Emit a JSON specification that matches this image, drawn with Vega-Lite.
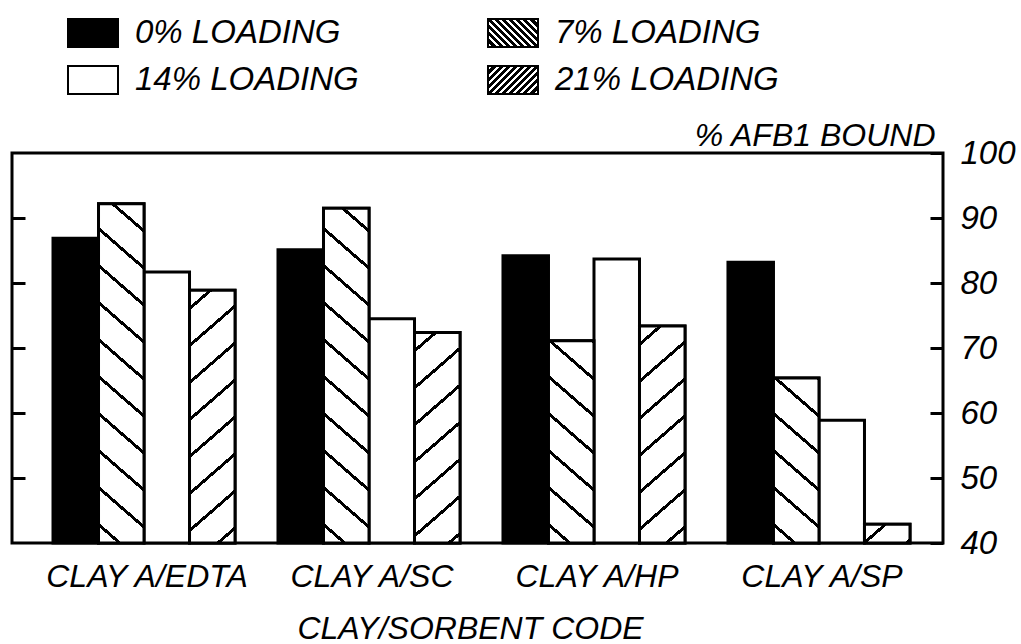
{
  "$schema": "https://vega.github.io/schema/vega-lite/v6.json",
  "width": 931,
  "height": 390,
  "autosize": {"type": "none"},
  "padding": {"left": 12, "top": 153, "right": 78, "bottom": 101},
  "background": "white",
  "config": {
    "font": "Liberation Sans",
    "view": {"stroke": "black", "strokeWidth": 3},
    "axis": {"grid": false, "labelColor": "black", "titleColor": "black", "tickColor": "black"}
  },
  "data": {
    "values": [
      {"clay": "CLAY A/EDTA", "loading": "0% LOADING", "value": 86.9},
      {"clay": "CLAY A/EDTA", "loading": "7% LOADING", "value": 92.2},
      {"clay": "CLAY A/EDTA", "loading": "14% LOADING", "value": 81.7},
      {"clay": "CLAY A/EDTA", "loading": "21% LOADING", "value": 78.9},
      {"clay": "CLAY A/SC", "loading": "0% LOADING", "value": 85.1},
      {"clay": "CLAY A/SC", "loading": "7% LOADING", "value": 91.5},
      {"clay": "CLAY A/SC", "loading": "14% LOADING", "value": 74.5},
      {"clay": "CLAY A/SC", "loading": "21% LOADING", "value": 72.4},
      {"clay": "CLAY A/HP", "loading": "0% LOADING", "value": 84.2},
      {"clay": "CLAY A/HP", "loading": "7% LOADING", "value": 71.1},
      {"clay": "CLAY A/HP", "loading": "14% LOADING", "value": 83.7},
      {"clay": "CLAY A/HP", "loading": "21% LOADING", "value": 73.4},
      {"clay": "CLAY A/SP", "loading": "0% LOADING", "value": 83.2},
      {"clay": "CLAY A/SP", "loading": "7% LOADING", "value": 65.4},
      {"clay": "CLAY A/SP", "loading": "14% LOADING", "value": 58.9},
      {"clay": "CLAY A/SP", "loading": "21% LOADING", "value": 42.9}
    ]
  },
  "encoding": {
    "x": {"field": "clay", "type": "nominal",
      "scale": {"domain": ["CLAY A/EDTA", "CLAY A/SC", "CLAY A/HP", "CLAY A/SP"], "paddingInner": 0.191, "paddingOuter": 0.1645, "align": 0.554},
      "axis": {"orient": "bottom", "domain": false, "ticks": false, "labelAngle": 0, "labelFontSize": 32, "labelFontStyle": "italic", "labelPadding": 18, "labelLimit": 1000, "labelOffset": 3,
        "title": "CLAY/SORBENT CODE", "titleFontSize": 32, "titleFontStyle": "italic", "titleFontWeight": "normal", "titleX": 458, "titleY": 95, "titleBaseline": "alphabetic", "titleAlign": "center", "titleLimit": 1000}},
    "xOffset": {"field": "loading", "type": "nominal",
      "scale": {"domain": ["0% LOADING", "7% LOADING", "14% LOADING", "21% LOADING"], "paddingInner": 0, "paddingOuter": 0}},
    "y": {"field": "value", "type": "quantitative", "axis": null,
      "scale": {"domain": [40, 100], "zero": false, "nice": false}},
    "y2": {"datum": 40}
  },
  "layer": [
    {
      "mark": {"type": "bar", "strokeWidth": 3},
      "encoding": {
        "y": {"field": "value", "type": "quantitative",
          "scale": {"domain": [40, 100], "zero": false, "nice": false},
          "axis": {"orient": "right", "values": [40, 50, 60, 70, 80, 90, 100], "domain": false, "ticks": true, "tickSize": -13, "tickWidth": 3,
            "labelFontSize": 33, "labelFontStyle": "italic", "labelPadding": 30, "labelBaseline": "middle", "labelFlush": false,
            "title": "% AFB1 BOUND", "titleAngle": 0, "titleAlign": "right", "titleBaseline": "alphabetic", "titleX": -8, "titleY": -8, "titleFontSize": 32, "titleFontStyle": "italic", "titleFontWeight": "normal", "titleLimit": 1000}},
        "fill": {"field": "loading", "type": "nominal",
          "scale": {"domain": ["0% LOADING", "7% LOADING", "14% LOADING", "21% LOADING"],
            "range": [
              "black",
              {"expr": "{gradient:'linear',x1:0,y1:1,x2:1.187,y2:0.335,stops:[{offset:0,color:'black'},{offset:0.0275,color:'black'},{offset:0.0275,color:'white'},{offset:0.0635,color:'white'},{offset:0.0635,color:'black'},{offset:0.1184,color:'black'},{offset:0.1184,color:'white'},{offset:0.1544,color:'white'},{offset:0.1544,color:'black'},{offset:0.2093,color:'black'},{offset:0.2093,color:'white'},{offset:0.2453,color:'white'},{offset:0.2453,color:'black'},{offset:0.3002,color:'black'},{offset:0.3002,color:'white'},{offset:0.3362,color:'white'},{offset:0.3362,color:'black'},{offset:0.3911,color:'black'},{offset:0.3911,color:'white'},{offset:0.4271,color:'white'},{offset:0.4271,color:'black'},{offset:0.482,color:'black'},{offset:0.482,color:'white'},{offset:0.518,color:'white'},{offset:0.518,color:'black'},{offset:0.5729,color:'black'},{offset:0.5729,color:'white'},{offset:0.6089,color:'white'},{offset:0.6089,color:'black'},{offset:0.6638,color:'black'},{offset:0.6638,color:'white'},{offset:0.6998,color:'white'},{offset:0.6998,color:'black'},{offset:0.7547,color:'black'},{offset:0.7547,color:'white'},{offset:0.7907,color:'white'},{offset:0.7907,color:'black'},{offset:0.8456,color:'black'},{offset:0.8456,color:'white'},{offset:0.8816,color:'white'},{offset:0.8816,color:'black'},{offset:0.9365,color:'black'},{offset:0.9365,color:'white'},{offset:0.9725,color:'white'},{offset:0.9725,color:'black'},{offset:1,color:'black'}]}"},
              "white",
              {"expr": "{gradient:'linear',x1:0,y1:0,x2:1.187,y2:0.665,stops:[{offset:0,color:'black'},{offset:0.0275,color:'black'},{offset:0.0275,color:'white'},{offset:0.0635,color:'white'},{offset:0.0635,color:'black'},{offset:0.1184,color:'black'},{offset:0.1184,color:'white'},{offset:0.1544,color:'white'},{offset:0.1544,color:'black'},{offset:0.2093,color:'black'},{offset:0.2093,color:'white'},{offset:0.2453,color:'white'},{offset:0.2453,color:'black'},{offset:0.3002,color:'black'},{offset:0.3002,color:'white'},{offset:0.3362,color:'white'},{offset:0.3362,color:'black'},{offset:0.3911,color:'black'},{offset:0.3911,color:'white'},{offset:0.4271,color:'white'},{offset:0.4271,color:'black'},{offset:0.482,color:'black'},{offset:0.482,color:'white'},{offset:0.518,color:'white'},{offset:0.518,color:'black'},{offset:0.5729,color:'black'},{offset:0.5729,color:'white'},{offset:0.6089,color:'white'},{offset:0.6089,color:'black'},{offset:0.6638,color:'black'},{offset:0.6638,color:'white'},{offset:0.6998,color:'white'},{offset:0.6998,color:'black'},{offset:0.7547,color:'black'},{offset:0.7547,color:'white'},{offset:0.7907,color:'white'},{offset:0.7907,color:'black'},{offset:0.8456,color:'black'},{offset:0.8456,color:'white'},{offset:0.8816,color:'white'},{offset:0.8816,color:'black'},{offset:0.9365,color:'black'},{offset:0.9365,color:'white'},{offset:0.9725,color:'white'},{offset:0.9725,color:'black'},{offset:1,color:'black'}]}"}
            ]},
          "legend": {"orient": "none", "legendX": 55, "legendY": -146, "columns": 2, "direction": "horizontal", "title": null,
            "symbolType": "M-1,-0.56H1V0.56H-1Z", "symbolSize": 2500, "symbolStrokeWidth": 2, "symbolOpacity": 1,
            "labelFontSize": 33, "labelFontStyle": "italic", "labelColor": "black", "labelOffset": 16, "labelLimit": 1000,
            "columnPadding": 125, "rowPadding": 3}},
        "stroke": {"field": "loading", "type": "nominal",
          "scale": {"domain": ["0% LOADING", "7% LOADING", "14% LOADING", "21% LOADING"], "range": ["black", "black", "black", "black"]},
          "legend": {"orient": "none", "legendX": 55, "legendY": -146, "columns": 2, "direction": "horizontal", "title": null,
            "symbolType": "M-1,-0.56H1V0.56H-1Z", "symbolSize": 2500, "symbolStrokeWidth": 2, "symbolOpacity": 1,
            "labelFontSize": 33, "labelFontStyle": "italic", "labelColor": "black", "labelOffset": 16, "labelLimit": 1000,
            "columnPadding": 125, "rowPadding": 3}}
      }
    },
    {
      "transform": [{"filter": "datum.clay === 'CLAY A/EDTA' && datum.loading === '7% LOADING'"}],
      "mark": {"type": "bar", "stroke": "black", "strokeWidth": 3,
        "fill": {"gradient": "linear", "x1": 0, "y1": 1, "x2": 0.1507, "y2": -0.2909, "stops": [
          {"offset": 0, "color": "white"},
          {"offset": 0.0372, "color": "white"}, {"offset": 0.0372, "color": "black"}, {"offset": 0.0462, "color": "black"}, {"offset": 0.0462, "color": "white"},
          {"offset": 0.1205, "color": "white"}, {"offset": 0.1205, "color": "black"}, {"offset": 0.1295, "color": "black"}, {"offset": 0.1295, "color": "white"},
          {"offset": 0.2038, "color": "white"}, {"offset": 0.2038, "color": "black"}, {"offset": 0.2128, "color": "black"}, {"offset": 0.2128, "color": "white"},
          {"offset": 0.2872, "color": "white"}, {"offset": 0.2872, "color": "black"}, {"offset": 0.2962, "color": "black"}, {"offset": 0.2962, "color": "white"},
          {"offset": 0.3705, "color": "white"}, {"offset": 0.3705, "color": "black"}, {"offset": 0.3795, "color": "black"}, {"offset": 0.3795, "color": "white"},
          {"offset": 0.4538, "color": "white"}, {"offset": 0.4538, "color": "black"}, {"offset": 0.4628, "color": "black"}, {"offset": 0.4628, "color": "white"},
          {"offset": 0.5372, "color": "white"}, {"offset": 0.5372, "color": "black"}, {"offset": 0.5462, "color": "black"}, {"offset": 0.5462, "color": "white"},
          {"offset": 0.6205, "color": "white"}, {"offset": 0.6205, "color": "black"}, {"offset": 0.6295, "color": "black"}, {"offset": 0.6295, "color": "white"},
          {"offset": 0.7038, "color": "white"}, {"offset": 0.7038, "color": "black"}, {"offset": 0.7128, "color": "black"}, {"offset": 0.7128, "color": "white"},
          {"offset": 0.7872, "color": "white"}, {"offset": 0.7872, "color": "black"}, {"offset": 0.7962, "color": "black"}, {"offset": 0.7962, "color": "white"},
          {"offset": 0.8705, "color": "white"}, {"offset": 0.8705, "color": "black"}, {"offset": 0.8795, "color": "black"}, {"offset": 0.8795, "color": "white"},
          {"offset": 0.9538, "color": "white"}, {"offset": 0.9538, "color": "black"}, {"offset": 0.9628, "color": "black"}, {"offset": 0.9628, "color": "white"},
          {"offset": 1, "color": "white"}]}},
      "encoding": {
        "y": {"field": "value", "type": "quantitative",
          "scale": {"domain": [40, 100], "zero": false, "nice": false},
          "axis": {"orient": "left", "values": [50, 60, 70, 80, 90], "domain": false, "labels": false, "ticks": true, "tickSize": -13, "tickWidth": 3, "title": null}}
      }
    },
    {
      "transform": [{"filter": "datum.clay === 'CLAY A/SC' && datum.loading === '7% LOADING'"}],
      "mark": {"type": "bar", "stroke": "black", "strokeWidth": 3,
        "fill": {"gradient": "linear", "x1": 0, "y1": 1, "x2": 0.1548, "y2": -0.308, "stops": [
          {"offset": 0, "color": "white"},
          {"offset": 0.0372, "color": "white"}, {"offset": 0.0372, "color": "black"}, {"offset": 0.0462, "color": "black"}, {"offset": 0.0462, "color": "white"},
          {"offset": 0.1205, "color": "white"}, {"offset": 0.1205, "color": "black"}, {"offset": 0.1295, "color": "black"}, {"offset": 0.1295, "color": "white"},
          {"offset": 0.2038, "color": "white"}, {"offset": 0.2038, "color": "black"}, {"offset": 0.2128, "color": "black"}, {"offset": 0.2128, "color": "white"},
          {"offset": 0.2872, "color": "white"}, {"offset": 0.2872, "color": "black"}, {"offset": 0.2962, "color": "black"}, {"offset": 0.2962, "color": "white"},
          {"offset": 0.3705, "color": "white"}, {"offset": 0.3705, "color": "black"}, {"offset": 0.3795, "color": "black"}, {"offset": 0.3795, "color": "white"},
          {"offset": 0.4538, "color": "white"}, {"offset": 0.4538, "color": "black"}, {"offset": 0.4628, "color": "black"}, {"offset": 0.4628, "color": "white"},
          {"offset": 0.5372, "color": "white"}, {"offset": 0.5372, "color": "black"}, {"offset": 0.5462, "color": "black"}, {"offset": 0.5462, "color": "white"},
          {"offset": 0.6205, "color": "white"}, {"offset": 0.6205, "color": "black"}, {"offset": 0.6295, "color": "black"}, {"offset": 0.6295, "color": "white"},
          {"offset": 0.7038, "color": "white"}, {"offset": 0.7038, "color": "black"}, {"offset": 0.7128, "color": "black"}, {"offset": 0.7128, "color": "white"},
          {"offset": 0.7872, "color": "white"}, {"offset": 0.7872, "color": "black"}, {"offset": 0.7962, "color": "black"}, {"offset": 0.7962, "color": "white"},
          {"offset": 0.8705, "color": "white"}, {"offset": 0.8705, "color": "black"}, {"offset": 0.8795, "color": "black"}, {"offset": 0.8795, "color": "white"},
          {"offset": 0.9538, "color": "white"}, {"offset": 0.9538, "color": "black"}, {"offset": 0.9628, "color": "black"}, {"offset": 0.9628, "color": "white"},
          {"offset": 1, "color": "white"}]}}
    },
    {
      "transform": [{"filter": "datum.clay === 'CLAY A/HP' && datum.loading === '7% LOADING'"}],
      "mark": {"type": "bar", "stroke": "black", "strokeWidth": 3,
        "fill": {"gradient": "linear", "x1": 0, "y1": 1, "x2": 0.4143, "y2": -1.1147, "stops": [
          {"offset": 0, "color": "white"},
          {"offset": 0.0372, "color": "white"}, {"offset": 0.0372, "color": "black"}, {"offset": 0.0462, "color": "black"}, {"offset": 0.0462, "color": "white"},
          {"offset": 0.1205, "color": "white"}, {"offset": 0.1205, "color": "black"}, {"offset": 0.1295, "color": "black"}, {"offset": 0.1295, "color": "white"},
          {"offset": 0.2038, "color": "white"}, {"offset": 0.2038, "color": "black"}, {"offset": 0.2128, "color": "black"}, {"offset": 0.2128, "color": "white"},
          {"offset": 0.2872, "color": "white"}, {"offset": 0.2872, "color": "black"}, {"offset": 0.2962, "color": "black"}, {"offset": 0.2962, "color": "white"},
          {"offset": 0.3705, "color": "white"}, {"offset": 0.3705, "color": "black"}, {"offset": 0.3795, "color": "black"}, {"offset": 0.3795, "color": "white"},
          {"offset": 0.4538, "color": "white"}, {"offset": 0.4538, "color": "black"}, {"offset": 0.4628, "color": "black"}, {"offset": 0.4628, "color": "white"},
          {"offset": 0.5372, "color": "white"}, {"offset": 0.5372, "color": "black"}, {"offset": 0.5462, "color": "black"}, {"offset": 0.5462, "color": "white"},
          {"offset": 0.6205, "color": "white"}, {"offset": 0.6205, "color": "black"}, {"offset": 0.6295, "color": "black"}, {"offset": 0.6295, "color": "white"},
          {"offset": 0.7038, "color": "white"}, {"offset": 0.7038, "color": "black"}, {"offset": 0.7128, "color": "black"}, {"offset": 0.7128, "color": "white"},
          {"offset": 0.7872, "color": "white"}, {"offset": 0.7872, "color": "black"}, {"offset": 0.7962, "color": "black"}, {"offset": 0.7962, "color": "white"},
          {"offset": 0.8705, "color": "white"}, {"offset": 0.8705, "color": "black"}, {"offset": 0.8795, "color": "black"}, {"offset": 0.8795, "color": "white"},
          {"offset": 0.9538, "color": "white"}, {"offset": 0.9538, "color": "black"}, {"offset": 0.9628, "color": "black"}, {"offset": 0.9628, "color": "white"},
          {"offset": 1, "color": "white"}]}}
    },
    {
      "transform": [{"filter": "datum.clay === 'CLAY A/SP' && datum.loading === '7% LOADING'"}],
      "mark": {"type": "bar", "stroke": "black", "strokeWidth": 3,
        "fill": {"gradient": "linear", "x1": 0, "y1": 1, "x2": 0.6101, "y2": -1.5431, "stops": [
          {"offset": 0, "color": "white"},
          {"offset": 0.0372, "color": "white"}, {"offset": 0.0372, "color": "black"}, {"offset": 0.0462, "color": "black"}, {"offset": 0.0462, "color": "white"},
          {"offset": 0.1205, "color": "white"}, {"offset": 0.1205, "color": "black"}, {"offset": 0.1295, "color": "black"}, {"offset": 0.1295, "color": "white"},
          {"offset": 0.2038, "color": "white"}, {"offset": 0.2038, "color": "black"}, {"offset": 0.2128, "color": "black"}, {"offset": 0.2128, "color": "white"},
          {"offset": 0.2872, "color": "white"}, {"offset": 0.2872, "color": "black"}, {"offset": 0.2962, "color": "black"}, {"offset": 0.2962, "color": "white"},
          {"offset": 0.3705, "color": "white"}, {"offset": 0.3705, "color": "black"}, {"offset": 0.3795, "color": "black"}, {"offset": 0.3795, "color": "white"},
          {"offset": 0.4538, "color": "white"}, {"offset": 0.4538, "color": "black"}, {"offset": 0.4628, "color": "black"}, {"offset": 0.4628, "color": "white"},
          {"offset": 0.5372, "color": "white"}, {"offset": 0.5372, "color": "black"}, {"offset": 0.5462, "color": "black"}, {"offset": 0.5462, "color": "white"},
          {"offset": 0.6205, "color": "white"}, {"offset": 0.6205, "color": "black"}, {"offset": 0.6295, "color": "black"}, {"offset": 0.6295, "color": "white"},
          {"offset": 0.7038, "color": "white"}, {"offset": 0.7038, "color": "black"}, {"offset": 0.7128, "color": "black"}, {"offset": 0.7128, "color": "white"},
          {"offset": 0.7872, "color": "white"}, {"offset": 0.7872, "color": "black"}, {"offset": 0.7962, "color": "black"}, {"offset": 0.7962, "color": "white"},
          {"offset": 0.8705, "color": "white"}, {"offset": 0.8705, "color": "black"}, {"offset": 0.8795, "color": "black"}, {"offset": 0.8795, "color": "white"},
          {"offset": 0.9538, "color": "white"}, {"offset": 0.9538, "color": "black"}, {"offset": 0.9628, "color": "black"}, {"offset": 0.9628, "color": "white"},
          {"offset": 1, "color": "white"}]}}
    },
    {
      "transform": [{"filter": "datum.clay === 'CLAY A/EDTA' && datum.loading === '21% LOADING'"}],
      "mark": {"type": "bar", "stroke": "black", "strokeWidth": 3,
        "fill": {"gradient": "linear", "x1": 0, "y1": 0, "x2": 0.2684, "y2": 1.7138, "stops": [
          {"offset": 0, "color": "white"},
          {"offset": 0.0372, "color": "white"}, {"offset": 0.0372, "color": "black"}, {"offset": 0.0462, "color": "black"}, {"offset": 0.0462, "color": "white"},
          {"offset": 0.1205, "color": "white"}, {"offset": 0.1205, "color": "black"}, {"offset": 0.1295, "color": "black"}, {"offset": 0.1295, "color": "white"},
          {"offset": 0.2038, "color": "white"}, {"offset": 0.2038, "color": "black"}, {"offset": 0.2128, "color": "black"}, {"offset": 0.2128, "color": "white"},
          {"offset": 0.2872, "color": "white"}, {"offset": 0.2872, "color": "black"}, {"offset": 0.2962, "color": "black"}, {"offset": 0.2962, "color": "white"},
          {"offset": 0.3705, "color": "white"}, {"offset": 0.3705, "color": "black"}, {"offset": 0.3795, "color": "black"}, {"offset": 0.3795, "color": "white"},
          {"offset": 0.4538, "color": "white"}, {"offset": 0.4538, "color": "black"}, {"offset": 0.4628, "color": "black"}, {"offset": 0.4628, "color": "white"},
          {"offset": 0.5372, "color": "white"}, {"offset": 0.5372, "color": "black"}, {"offset": 0.5462, "color": "black"}, {"offset": 0.5462, "color": "white"},
          {"offset": 0.6205, "color": "white"}, {"offset": 0.6205, "color": "black"}, {"offset": 0.6295, "color": "black"}, {"offset": 0.6295, "color": "white"},
          {"offset": 0.7038, "color": "white"}, {"offset": 0.7038, "color": "black"}, {"offset": 0.7128, "color": "black"}, {"offset": 0.7128, "color": "white"},
          {"offset": 0.7872, "color": "white"}, {"offset": 0.7872, "color": "black"}, {"offset": 0.7962, "color": "black"}, {"offset": 0.7962, "color": "white"},
          {"offset": 0.8705, "color": "white"}, {"offset": 0.8705, "color": "black"}, {"offset": 0.8795, "color": "black"}, {"offset": 0.8795, "color": "white"},
          {"offset": 0.9538, "color": "white"}, {"offset": 0.9538, "color": "black"}, {"offset": 0.9628, "color": "black"}, {"offset": 0.9628, "color": "white"},
          {"offset": 1, "color": "white"}]}}
    },
    {
      "transform": [{"filter": "datum.clay === 'CLAY A/SC' && datum.loading === '21% LOADING'"}],
      "mark": {"type": "bar", "stroke": "black", "strokeWidth": 3,
        "fill": {"gradient": "linear", "x1": 0, "y1": 0, "x2": 0.383, "y2": 2.0365, "stops": [
          {"offset": 0, "color": "white"},
          {"offset": 0.0372, "color": "white"}, {"offset": 0.0372, "color": "black"}, {"offset": 0.0462, "color": "black"}, {"offset": 0.0462, "color": "white"},
          {"offset": 0.1205, "color": "white"}, {"offset": 0.1205, "color": "black"}, {"offset": 0.1295, "color": "black"}, {"offset": 0.1295, "color": "white"},
          {"offset": 0.2038, "color": "white"}, {"offset": 0.2038, "color": "black"}, {"offset": 0.2128, "color": "black"}, {"offset": 0.2128, "color": "white"},
          {"offset": 0.2872, "color": "white"}, {"offset": 0.2872, "color": "black"}, {"offset": 0.2962, "color": "black"}, {"offset": 0.2962, "color": "white"},
          {"offset": 0.3705, "color": "white"}, {"offset": 0.3705, "color": "black"}, {"offset": 0.3795, "color": "black"}, {"offset": 0.3795, "color": "white"},
          {"offset": 0.4538, "color": "white"}, {"offset": 0.4538, "color": "black"}, {"offset": 0.4628, "color": "black"}, {"offset": 0.4628, "color": "white"},
          {"offset": 0.5372, "color": "white"}, {"offset": 0.5372, "color": "black"}, {"offset": 0.5462, "color": "black"}, {"offset": 0.5462, "color": "white"},
          {"offset": 0.6205, "color": "white"}, {"offset": 0.6205, "color": "black"}, {"offset": 0.6295, "color": "black"}, {"offset": 0.6295, "color": "white"},
          {"offset": 0.7038, "color": "white"}, {"offset": 0.7038, "color": "black"}, {"offset": 0.7128, "color": "black"}, {"offset": 0.7128, "color": "white"},
          {"offset": 0.7872, "color": "white"}, {"offset": 0.7872, "color": "black"}, {"offset": 0.7962, "color": "black"}, {"offset": 0.7962, "color": "white"},
          {"offset": 0.8705, "color": "white"}, {"offset": 0.8705, "color": "black"}, {"offset": 0.8795, "color": "black"}, {"offset": 0.8795, "color": "white"},
          {"offset": 0.9538, "color": "white"}, {"offset": 0.9538, "color": "black"}, {"offset": 0.9628, "color": "black"}, {"offset": 0.9628, "color": "white"},
          {"offset": 1, "color": "white"}]}}
    },
    {
      "transform": [{"filter": "datum.clay === 'CLAY A/HP' && datum.loading === '21% LOADING'"}],
      "mark": {"type": "bar", "stroke": "black", "strokeWidth": 3,
        "fill": {"gradient": "linear", "x1": 0, "y1": 0, "x2": 0.361, "y2": 1.979, "stops": [
          {"offset": 0, "color": "white"},
          {"offset": 0.0372, "color": "white"}, {"offset": 0.0372, "color": "black"}, {"offset": 0.0462, "color": "black"}, {"offset": 0.0462, "color": "white"},
          {"offset": 0.1205, "color": "white"}, {"offset": 0.1205, "color": "black"}, {"offset": 0.1295, "color": "black"}, {"offset": 0.1295, "color": "white"},
          {"offset": 0.2038, "color": "white"}, {"offset": 0.2038, "color": "black"}, {"offset": 0.2128, "color": "black"}, {"offset": 0.2128, "color": "white"},
          {"offset": 0.2872, "color": "white"}, {"offset": 0.2872, "color": "black"}, {"offset": 0.2962, "color": "black"}, {"offset": 0.2962, "color": "white"},
          {"offset": 0.3705, "color": "white"}, {"offset": 0.3705, "color": "black"}, {"offset": 0.3795, "color": "black"}, {"offset": 0.3795, "color": "white"},
          {"offset": 0.4538, "color": "white"}, {"offset": 0.4538, "color": "black"}, {"offset": 0.4628, "color": "black"}, {"offset": 0.4628, "color": "white"},
          {"offset": 0.5372, "color": "white"}, {"offset": 0.5372, "color": "black"}, {"offset": 0.5462, "color": "black"}, {"offset": 0.5462, "color": "white"},
          {"offset": 0.6205, "color": "white"}, {"offset": 0.6205, "color": "black"}, {"offset": 0.6295, "color": "black"}, {"offset": 0.6295, "color": "white"},
          {"offset": 0.7038, "color": "white"}, {"offset": 0.7038, "color": "black"}, {"offset": 0.7128, "color": "black"}, {"offset": 0.7128, "color": "white"},
          {"offset": 0.7872, "color": "white"}, {"offset": 0.7872, "color": "black"}, {"offset": 0.7962, "color": "black"}, {"offset": 0.7962, "color": "white"},
          {"offset": 0.8705, "color": "white"}, {"offset": 0.8705, "color": "black"}, {"offset": 0.8795, "color": "black"}, {"offset": 0.8795, "color": "white"},
          {"offset": 0.9538, "color": "white"}, {"offset": 0.9538, "color": "black"}, {"offset": 0.9628, "color": "black"}, {"offset": 0.9628, "color": "white"},
          {"offset": 1, "color": "white"}]}}
    },
    {
      "transform": [{"filter": "datum.clay === 'CLAY A/SP' && datum.loading === '21% LOADING'"}],
      "mark": {"type": "bar", "stroke": "black", "strokeWidth": 3,
        "fill": {"gradient": "linear", "x1": 0, "y1": 0, "x2": 9.121, "y2": 4.34, "stops": [
          {"offset": 0, "color": "white"},
          {"offset": 0.0372, "color": "white"}, {"offset": 0.0372, "color": "black"}, {"offset": 0.0462, "color": "black"}, {"offset": 0.0462, "color": "white"},
          {"offset": 0.1205, "color": "white"}, {"offset": 0.1205, "color": "black"}, {"offset": 0.1295, "color": "black"}, {"offset": 0.1295, "color": "white"},
          {"offset": 0.2038, "color": "white"}, {"offset": 0.2038, "color": "black"}, {"offset": 0.2128, "color": "black"}, {"offset": 0.2128, "color": "white"},
          {"offset": 1, "color": "white"}]}}
    }
  ]
}
